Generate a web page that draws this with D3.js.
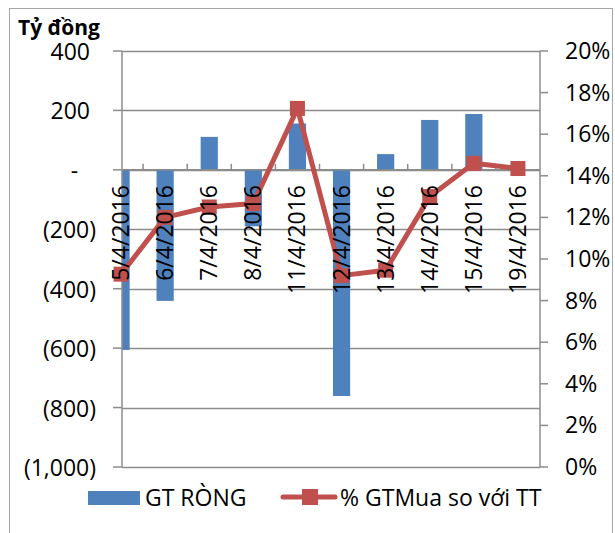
<!DOCTYPE html>
<html><head><meta charset="utf-8">
<script src="https://cdn.jsdelivr.net/npm/d3@7/dist/d3.min.js"></script>
<style>body{margin:0;background:#fff}svg{display:block}text{font-family:"Open Sans",sans-serif}</style>
</head><body>
<svg id="c" width="615" height="533"></svg>
<script>
const categories = ["5/4/2016","6/4/2016","7/4/2016","8/4/2016","11/4/2016","12/4/2016","13/4/2016","14/4/2016","15/4/2016","19/4/2016"];
const gtRong = [-606, -441, 111, -190, 156, -761, 53, 168, 188, 0];
const pctGTMua = [0.0927, 0.120, 0.125, 0.1267, 0.1724, 0.092, 0.0946, 0.130, 0.146, 0.1435];
const leftTicks = [400, 200, 0, -200, -400, -600, -800, -1000];
const rightTicks = [0,0.02,0.04,0.06,0.08,0.10,0.12,0.14,0.16,0.18,0.20];
const seriesNames = ["GT RÒNG", "% GTMua so với TT"];
const unitLabel = "Tỷ đồng";

const svg = d3.select("#c");
const L = 122, R = 540, T = 51, B = 467;
const x = d3.scalePoint().domain(categories).range([99, 540]).padding(0.5);
const step = x.step();
const yL = d3.scaleLinear().domain([-1000, 400]).range([B, T]);
const yR = d3.scaleLinear().domain([0, 0.2]).range([B, T]);
const gridC = "#8c8c8c", blue = "#4F81BD", red = "#C0504D";

// frame
svg.append("rect").attr("x",9.5).attr("y",8.5).attr("width",603).attr("height",560)
  .attr("fill","none").attr("stroke","#a6a6a6").attr("stroke-width",1);

// gridlines
svg.append("g").selectAll("line").data(leftTicks).join("line")
  .attr("x1",L).attr("x2",R).attr("y1",d=>Math.round(yL(d))+0.5).attr("y2",d=>Math.round(yL(d))+0.5)
  .attr("stroke",gridC).attr("stroke-width",1.3);

// bars (clipped to plot area)
svg.append("clipPath").attr("id","pc").append("rect").attr("x",L).attr("y",T).attr("width",R-L).attr("height",B-T);
const bw = step*0.39;
svg.append("g").attr("clip-path","url(#pc)").selectAll("rect").data(categories).join("rect")
  .attr("x",d=>x(d)-bw/2).attr("width",bw)
  .attr("y",(d,i)=>yL(Math.max(0,gtRong[i]))).attr("height",(d,i)=>Math.abs(yL(gtRong[i])-yL(0)))
  .attr("fill",blue);

// axes lines
const ax = svg.append("g").attr("stroke",gridC).attr("stroke-width",1.5);
ax.append("line").attr("x1",L).attr("x2",L).attr("y1",T).attr("y2",B);
ax.append("line").attr("x1",R).attr("x2",R).attr("y1",T).attr("y2",B);
ax.selectAll(".lt").data(leftTicks).join("line").attr("class","lt")
  .attr("x1",113).attr("x2",L).attr("y1",d=>yL(d)).attr("y2",d=>yL(d));
ax.selectAll(".rt").data(rightTicks).join("line").attr("class","rt")
  .attr("x1",R).attr("x2",548).attr("y1",d=>yR(d)).attr("y2",d=>yR(d));
// category axis at zero
const y0 = yL(0);
ax.append("line").attr("x1",L).attr("x2",R).attr("y1",y0).attr("y2",y0);
ax.selectAll(".ct").data(categories.slice(1)).join("line").attr("class","ct")
  .attr("x1",d=>x(d)-step/2).attr("x2",d=>x(d)-step/2).attr("y1",y0-6).attr("y2",y0);

// line series
const pts = categories.map((c,i)=>[x(c), yR(pctGTMua[i])]);
svg.append("path").attr("d",d3.line()(pts)).attr("fill","none").attr("stroke",red)
  .attr("stroke-width",5).attr("stroke-linejoin","round");
const ms = 15;
svg.append("g").selectAll("rect").data(pts).join("rect")
  .attr("x",d=>d[0]-ms/2).attr("y",d=>d[1]-ms/2).attr("width",ms).attr("height",ms).attr("fill",red);

// left tick labels
const fmt = d3.format(",");
svg.append("g").selectAll("text").data(leftTicks).join("text")
  .attr("x",d=>d===0?74.5:(d<0?96:90)).attr("y",d=>yL(d)+1).attr("dy","0.35em")
  .attr("text-anchor",d=>d===0?"middle":"end").attr("font-size",23).attr("fill","#000")
  .text(d=>d===0?"-":(d<0?"("+fmt(-d)+")":fmt(d)));

// right tick labels
svg.append("g").selectAll("text").data(rightTicks).join("text")
  .attr("x",565).attr("y",d=>yR(d)).attr("dy","0.35em")
  .attr("font-size",23).attr("fill","#000")
  .text(d=>d3.format(".0%")(d));

// category labels
svg.append("g").selectAll("text").data(categories).join("text")
  .attr("transform",d=>`translate(${x(d)+8},185) rotate(-90)`)
  .attr("text-anchor","end").attr("font-size",23).attr("fill","#000").text(d=>d);

// unit label
svg.append("text").attr("x",18).attr("y",35).attr("font-size",21).attr("font-weight","bold").text(unitLabel);

// legend
svg.append("rect").attr("x",88).attr("y",491).attr("width",52).attr("height",14).attr("fill",blue);
svg.append("text").attr("x",145).attr("y",498).attr("dy","0.35em").attr("font-size",23).text(seriesNames[0]);
svg.append("line").attr("x1",283).attr("x2",335).attr("y1",497).attr("y2",497).attr("stroke",red).attr("stroke-width",5).attr("stroke-linecap","round");
svg.append("rect").attr("x",302).attr("y",489).attr("width",16).attr("height",16).attr("fill",red);
svg.append("text").attr("x",340).attr("y",498).attr("dy","0.35em").attr("font-size",23).text(seriesNames[1]);
</script>
</body></html>
